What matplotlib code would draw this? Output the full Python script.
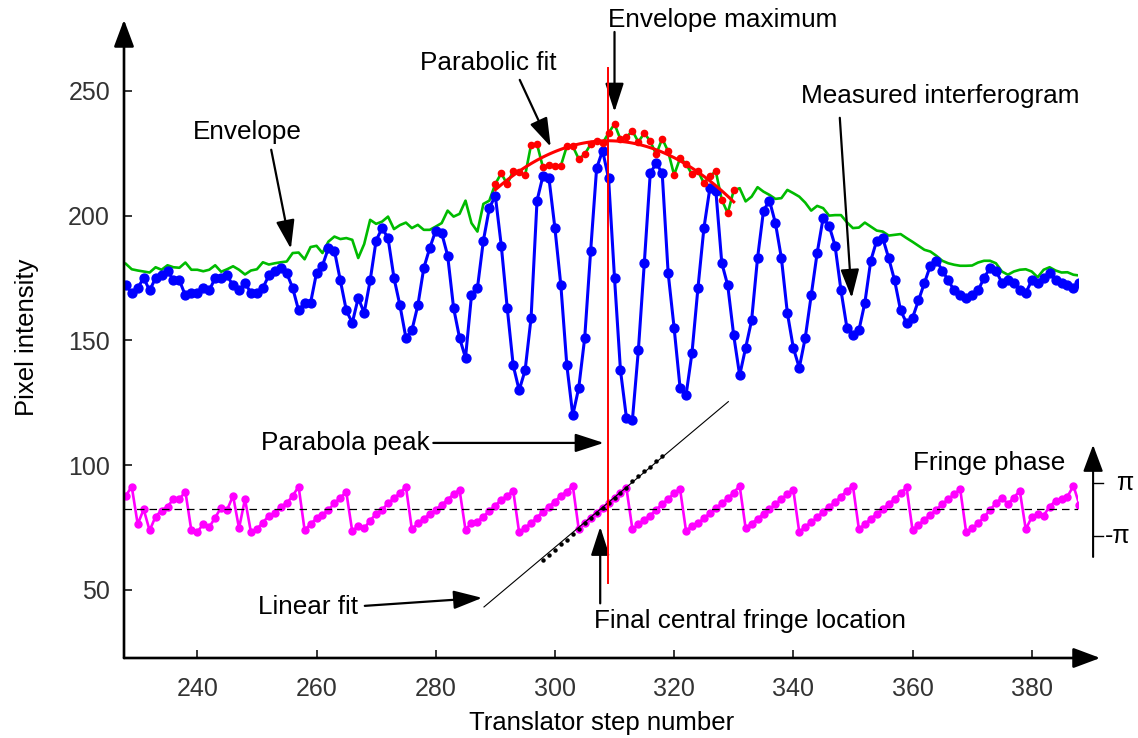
import numpy as np
import matplotlib.pyplot as plt

plt.rcParams['font.family'] = ['Liberation Sans', 'DejaVu Sans']

# translator steps 228..388
steps = np.arange(228, 389)

# measured interferogram (blue)
intensity = [
    172, 169, 171, 175, 170, 175, 176, 178, 174, 174,
    168, 169, 169, 171, 170, 175, 175, 176, 172, 170,
    173, 169, 169, 171, 176, 178, 179, 177, 171, 162,
    165, 165, 177, 180, 187, 186, 174, 162, 157, 167,
    161, 174, 190, 195, 191, 175, 164, 151, 154, 164,
    179, 187, 194, 193, 184, 163, 151, 143, 168, 171,
    190, 203, 208, 188, 163, 140, 130, 138, 159, 206,
    216, 215, 195, 172, 140, 120, 131, 151, 186, 219,
    226, 215, 175, 138, 119, 118, 146, 181, 217, 221,
    217, 177, 155, 131, 128, 145, 171, 195, 211, 210,
    181, 172, 152, 136, 147, 158, 183, 202, 206, 197,
    183, 161, 147, 139, 151, 168, 185, 199, 196, 188,
    170, 155, 152, 154, 165, 182, 190, 191, 183, 174,
    162, 157, 159, 166, 173, 180, 182, 178, 174, 170,
    168, 167, 168, 170, 175, 179, 178, 173, 174, 173,
    170, 169, 174, 173, 175, 177, 174, 173, 172, 171,
    173,
]

# envelope (green)
envelope = [
    180.7, 178.5, 178.0, 177.6, 177.2, 179.3, 178.3, 180.1, 179.3, 179.1,
    181.2, 178.3, 178.3, 177.7, 178.3, 180.1, 177.5, 178.5, 179.7, 178.3,
    176.4, 178.0, 178.5, 181.3, 180.4, 180.9, 181.3, 181.6, 185.0, 185.2,
    182.5, 187.4, 187.9, 185.0, 189.6, 191.6, 190.6, 191.0, 190.3, 183.0,
    188.6, 198.3, 196.7, 197.6, 199.6, 194.6, 196.2, 197.2, 195.0, 196.3,
    194.3, 194.3, 195.6, 197.0, 202.0, 199.6, 200.7, 206.0, 197.0, 193.6,
    204.7, 206.0, 212.7, 217.0, 212.5, 218.0, 217.3, 216.1, 228.4, 228.6,
    219.3, 220.1, 220.0, 220.0, 227.8, 227.8, 222.7, 224.6, 228.6, 230.0,
    229.0, 233.1, 236.7, 230.6, 231.4, 234.0, 229.5, 233.1, 229.8, 224.5,
    230.9, 225.7, 216.3, 223.0, 220.8, 216.5, 217.9, 213.0, 215.9, 217.7,
    206.3, 201.0, 210.1, 211.0, 205.7, 207.6, 211.4, 209.6, 208.3, 206.7,
    207.0, 210.3, 209.0, 207.6, 205.2, 202.0, 203.9, 203.0, 200.0, 200.2,
    200.2, 197.3, 195.0, 195.2, 197.2, 195.6, 194.0, 193.6, 192.0, 192.3,
    192.6, 191.0, 189.5, 187.9, 186.3, 185.6, 183.9, 181.9, 180.9, 180.3,
    179.9, 179.9, 180.0, 181.2, 181.9, 181.9, 180.9, 177.6, 176.3, 177.6,
    178.3, 178.5, 177.6, 175.3, 178.3, 179.3, 178.0, 177.2, 177.3, 176.3,
    176.0,
]

# fringe phase, scaled onto the intensity axis (magenta)
phase = [
    87.7, 91.4, 76.3, 82.3, 73.8, 79.4, 81.8, 83.4, 86.4, 86.4,
    89.4, 73.8, 73.1, 76.5, 75.1, 79.0, 83.0, 82.1, 87.7, 74.7,
    86.4, 73.1, 74.4, 77.0, 79.7, 80.7, 83.4, 84.7, 87.7, 91.4,
    74.0, 76.3, 78.7, 80.1, 82.1, 84.7, 87.0, 89.2, 73.4, 75.8,
    74.7, 77.8, 80.5, 82.1, 84.7, 86.7, 88.8, 91.4, 74.3, 76.7,
    78.5, 80.4, 82.1, 84.1, 86.1, 88.4, 90.1, 74.0, 77.0, 77.4,
    79.4, 81.7, 83.8, 86.1, 87.7, 89.8, 73.0, 75.0, 76.7, 79.0,
    81.4, 83.4, 85.4, 87.7, 89.4, 91.7, 74.3, 76.7, 79.0, 81.0,
    83.0, 84.7, 86.7, 88.8, 90.8, 74.3, 76.3, 78.1, 79.8, 82.1,
    84.4, 86.4, 88.8, 90.4, 73.6, 75.6, 76.7, 78.7, 80.7, 82.7,
    84.7, 86.7, 89.0, 91.7, 74.7, 76.6, 78.4, 80.5, 82.3, 84.4,
    86.4, 88.4, 90.1, 73.1, 75.4, 77.1, 79.1, 81.4, 83.4, 85.1,
    87.4, 89.7, 91.7, 74.4, 76.3, 78.5, 80.4, 82.3, 84.4, 86.4,
    88.8, 91.1, 74.0, 76.1, 78.1, 80.1, 82.1, 84.4, 86.4, 88.4,
    90.4, 73.1, 74.7, 76.7, 79.1, 82.1, 84.7, 87.0, 84.4, 87.0,
    89.7, 74.3, 79.1, 80.4, 79.8, 83.4, 85.7, 86.5, 87.4, 91.7,
    84.1,
]

fit_window = (290, 330)          # envelope points used for the parabola
parabola = dict(x0=308.9, y0=230.0, k=0.055)
lin_fit = dict(slope=2.007, x_zero=307.7, x_from=288.1, x_to=329.1)
lin_pts = (298, 318)
zero_level = 82.5
two_pi = 19.4
pi_levels = (93.0, 71.6)

intensity = np.array(intensity, float)
envelope = np.array(envelope, float)
phase = np.array(phase, float)

fig = plt.figure(figsize=(11.38, 7.38), dpi=100)
ax = fig.add_axes([124 / 1138, 80 / 738, 954.2 / 1138, 642 / 738])
ax.set_xlim(227.7, 387.8)
ax.set_ylim(22.7, 280)
for s in ax.spines.values():
    s.set_visible(False)

blue = '#0000ff'
green = '#00bb00'
red = '#ff0000'
mag = '#ff00ff'

ax.plot(steps, envelope, color=green, lw=1.9, zorder=2)
ax.plot(steps, intensity, color=blue, lw=2.2, marker='o', ms=6.4, zorder=3)

sel = (steps >= fit_window[0]) & (steps <= fit_window[1])
ax.plot(steps[sel], envelope[sel], 'o', color=red, ms=4.5, zorder=4)
xp = np.linspace(fit_window[0], fit_window[1], 100)
yp = parabola['y0'] - parabola['k'] * (xp - parabola['x0']) ** 2
ax.plot(xp, yp, color=red, lw=2.2, zorder=5)

ax.axhline(zero_level, color='k', lw=0.9, dashes=(6, 4), zorder=4)
ax.plot(steps, phase, color=mag, lw=1.9, marker='o', ms=5, zorder=3)

xl = np.array([lin_fit['x_from'], lin_fit['x_to']])
ax.plot(xl, zero_level + lin_fit['slope'] * (xl - lin_fit['x_zero']),
        color='k', lw=0.8, zorder=5)
sl = (steps >= lin_pts[0]) & (steps <= lin_pts[1])
line_here = zero_level + lin_fit['slope'] * (steps[sl] - lin_fit['x_zero'])
unwrapped = phase[sl] + two_pi * np.round((line_here - phase[sl]) / two_pi)
ax.plot(steps[sl], unwrapped, 'o', color='k', ms=2.2, zorder=6)

ax.plot([parabola['x0']] * 2, [52.8, 259.2], color=red, lw=1.4, zorder=7)

# axes with arrow heads
axis_arrow = dict(arrowstyle='-|>,head_length=0.75,head_width=0.28',
                  lw=1.9, color='k', mutation_scale=22, shrinkA=0, shrinkB=0)
ax.annotate('', xy=(391.5, 22.7), xytext=(227.7, 22.7),
            arrowprops=axis_arrow, annotation_clip=False)
ax.annotate('', xy=(227.7, 278.5), xytext=(227.7, 22.7),
            arrowprops=axis_arrow, annotation_clip=False)

ax.set_xticks(np.arange(240, 381, 20))
ax.set_yticks(np.arange(50, 251, 50))
ax.tick_params(direction='in', length=6, width=1.1, labelsize=18,
               labelcolor='#333333')
ax.tick_params(axis='x', pad=14)
ax.tick_params(axis='y', pad=10)
ax.set_xlabel('Translator step number', fontsize=18.5, labelpad=7)
ax.set_ylabel('Pixel intensity', fontsize=18.5, labelpad=21)

# phase axis on the right
ax.annotate('', xy=(390.3, 108.1), xytext=(390.3, 63.2),
            arrowprops=dict(axis_arrow, lw=1.5), annotation_clip=False)
for lv, lab, dx in zip(pi_levels, ['π', '-π'], [395.6, 394.4]):
    ax.plot([390.3, 392.0], [lv, lv], color='k', lw=1.0, clip_on=False)
    ax.text(dx, lv, lab, fontsize=18, ha='center', va='center')

note_arrow = dict(arrowstyle='-|>,head_length=0.8,head_width=0.26',
                  lw=1.6, color='k', mutation_scale=22, shrinkA=0, shrinkB=0)
notes = [
    ('Envelope maximum', (308.9, 278.5), (310.0, 273.6), (310.0, 241.6)),
    ('Parabolic fit', (277.4, 261.2), (294.1, 254.4), (299.3, 227.6)),
    ('Measured interferogram', (341.3, 248.0), (347.8, 239.2), (349.8, 167.0)),
    ('Envelope', (239.3, 233.6), (252.4, 226.4), (255.7, 186.7)),
    ('Parabola peak', (250.7, 108.9), (279.6, 108.9), (308.2, 108.9)),
    ('Linear fit', (250.2, 43.2), (268.1, 43.6), (287.8, 46.8)),
    ('Final central fringe location', (306.6, 37.6), (307.6, 44.6), (307.6, 75.3)),
]
for txt, pos, tail, tip in notes:
    ax.text(pos[0], pos[1], txt, fontsize=18.8, ha='left', va='center')
    ax.annotate('', xy=tip, xytext=tail, arrowprops=note_arrow,
                annotation_clip=False)
ax.text(360.1, 100.9, 'Fringe phase', fontsize=18.8, ha='left', va='center')

fig.savefig('out.png', dpi=100)
